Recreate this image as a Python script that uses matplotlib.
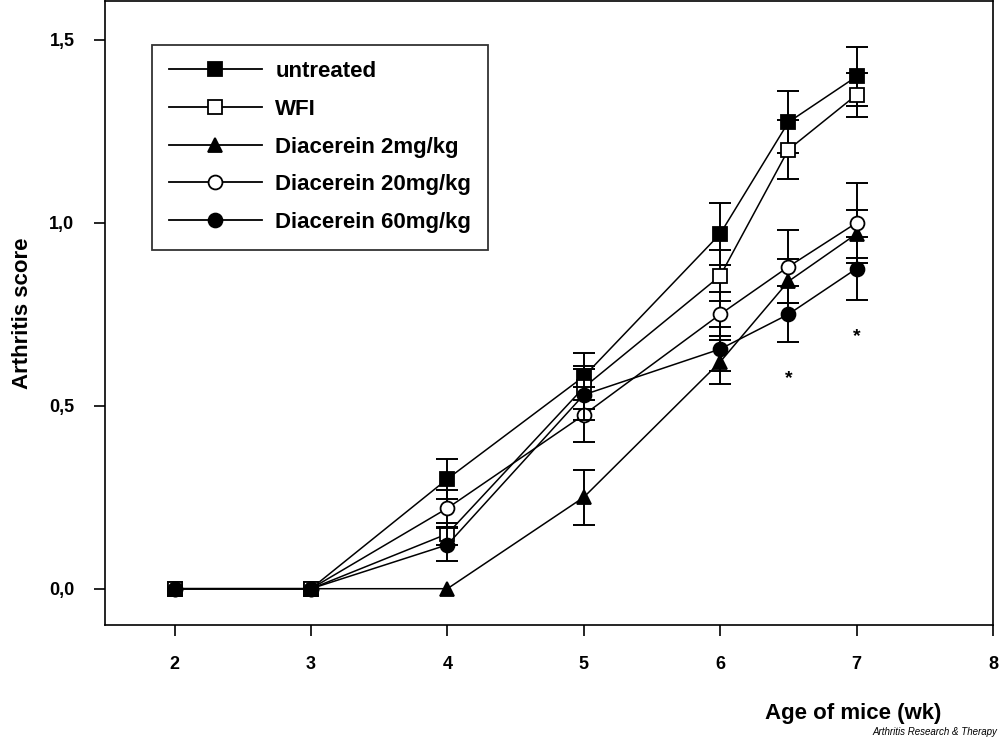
import matplotlib
matplotlib.use("Agg")
import matplotlib.pyplot as plt
from matplotlib.lines import Line2D
from matplotlib.ticker import FuncFormatter

plt.rcParams['font.family'] = ['Liberation Sans', 'DejaVu Sans']
plt.rcParams['font.weight'] = 'bold'

# age of mice (wk)
age = [2, 3, 4, 5, 6, 6.5, 7]

untreated = [0, 0, 0.30, 0.58, 0.97, 1.275, 1.40]
untreated_err = [0, 0, 0.055, 0.065, 0.085, 0.085, 0.08]
wfi = [0, 0, 0.15, 0.55, 0.855, 1.20, 1.35]
wfi_err = [0, 0, 0.03, 0.06, 0.07, 0.08, 0.06]
d2 = [0, 0, 0, 0.25, 0.62, 0.84, 0.97]
d2_err = [0, 0, 0, 0.075, 0.06, 0.06, 0.065]
d20 = [0, 0, 0.22, 0.475, 0.75, 0.88, 1.00]
d20_err = [0, 0, 0.05, 0.075, 0.06, 0.10, 0.11]
d60 = [0, 0, 0.12, 0.53, 0.655, 0.75, 0.875]
d60_err = [0, 0, 0.045, 0.07, 0.06, 0.077, 0.085]

star_x = [6.5, 7]
star_y = [0.575, 0.69]

xticks = [2, 3, 4, 5, 6, 7, 8]
yticks = [0.0, 0.5, 1.0, 1.5]

series = [
    ("untreated", untreated, untreated_err, 's', 'black'),
    ("WFI", wfi, wfi_err, 's', 'white'),
    ("Diacerein 2mg/kg", d2, d2_err, '^', 'black'),
    ("Diacerein 20mg/kg", d20, d20_err, 'o', 'white'),
    ("Diacerein 60mg/kg", d60, d60_err, 'o', 'black'),
]

fig = plt.figure(figsize=(10, 7.4), dpi=100)
ax = fig.add_axes([0.105, 0.155, 0.888, 0.843])

handles = []
for label, vals, err, mk, fc in series:
    ex = [a for a, e in zip(age, err) if e > 0]
    ey = [v for v, e in zip(vals, err) if e > 0]
    ee = [e for e in err if e > 0]
    ax.errorbar(ex, ey, yerr=ee, fmt='none', ecolor='black', elinewidth=1.4,
                capsize=8, capthick=1.4)
    ax.plot(age, vals, color='black', lw=1.1, marker=mk, markersize=10,
            markerfacecolor=fc, markeredgecolor='black', markeredgewidth=1.3)
    handles.append(Line2D([], [], color='black', lw=1.3, marker=mk, markersize=10,
                          markerfacecolor=fc, markeredgecolor='black',
                          markeredgewidth=1.3, label=label))

for sx, sy in zip(star_x, star_y):
    ax.text(sx, sy, '*', ha='center', va='center', fontsize=14, fontweight='bold')

ax.set_xlim(1.49, 8)
ax.set_ylim(-0.1, 1.605)
ax.set_xticks(xticks)
ax.set_yticks(yticks)
ax.yaxis.set_major_formatter(FuncFormatter(lambda v, p: f"{v:.1f}".replace('.', ',')))
ax.tick_params(direction='out', length=8, width=1.2, labelsize=13, pad=14)
for lab in ax.get_xticklabels() + ax.get_yticklabels():
    lab.set_fontweight('bold')
for sp in ax.spines.values():
    sp.set_linewidth(1.2)

ax.set_ylabel("Arthritis score", fontsize=16, fontweight='bold', labelpad=12)

leg = ax.legend(handles=handles, loc='upper left', bbox_to_anchor=(0.053, 0.931),
                fontsize=16, frameon=True, fancybox=False, edgecolor='black',
                handlelength=4.2, labelspacing=0.75, borderpad=0.75,
                handletextpad=0.6, borderaxespad=0)
leg.get_frame().set_linewidth(1.3)
for t in leg.get_texts():
    t.set_fontweight('bold')

fig.text(0.853, 0.036, "Age of mice (wk)", ha='center', va='center',
         fontsize=16, fontweight='bold')
fig.text(0.997, 0.004, "Arthritis Research & Therapy", ha='right', va='bottom',
         fontsize=7, style='italic', fontweight='normal')

fig.savefig("out.png", dpi=100)
